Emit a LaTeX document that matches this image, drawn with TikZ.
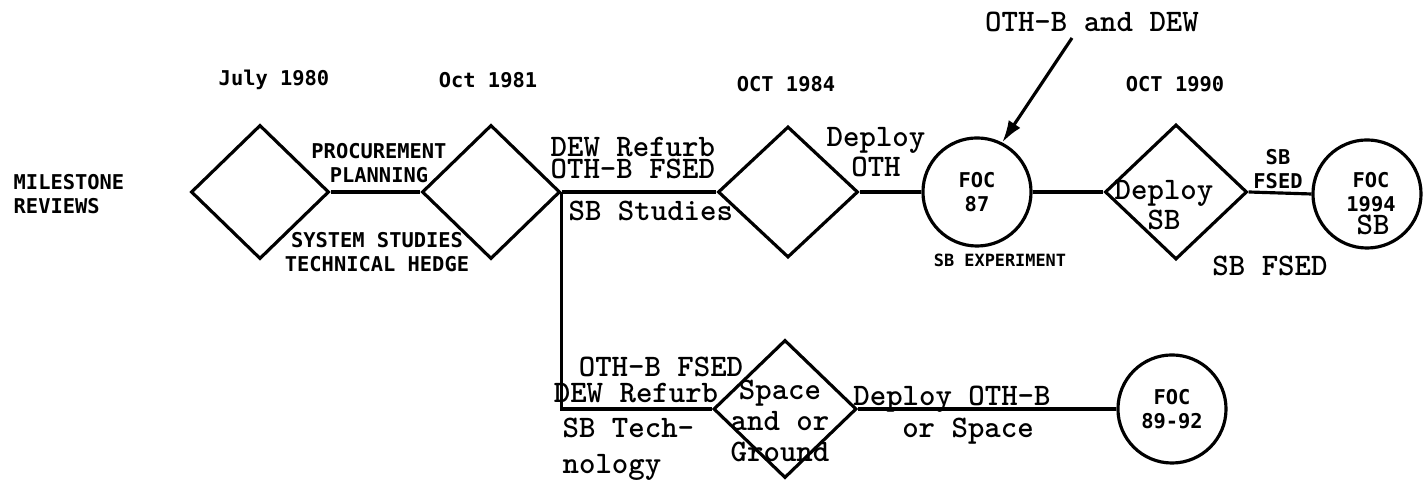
\documentclass[tikz,border=0pt]{standalone}
\usepackage{fontspec}
\usetikzlibrary{shapes.geometric,arrows.meta}
\newfontfamily\dmfam{DejaVu Sans Mono}
\newfontfamily\cwfam{lmmonolt10-bold.otf}
\newcommand\dmtext{\dmfam\bfseries\fontsize{5.8pt}{6.8pt}\selectfont}
\newcommand\cwtext{\cwfam\fontsize{8.9pt}{6pt}\selectfont}
\begin{document}
\begin{tikzpicture}[x=0.01cm,y=-0.01cm,
  gate/.style={draw, diamond, line width=0.9pt, inner sep=0pt, minimum width=1.38cm, minimum height=1.34cm},
  foc/.style={draw, circle, line width=0.9pt, inner sep=0pt, minimum size=1.08cm, align=center, font=\dmtext},
  dm/.style={font=\dmtext, align=center, inner sep=0pt},
  cw/.style={font=\cwtext, align=center, inner sep=0pt},
  link/.style={line width=0.9pt}]
\useasboundingbox (0,0) rectangle (1423,480);
\node[gate] (g1) at (260,192) {};
\node[gate] (g2) at (491,192) {};
\node[gate, minimum width=1.40cm, minimum height=1.31cm] (g3) at (788,192) {};
\node[foc] (c1) at (977,192) {FOC\\87};
\node[gate, minimum width=1.42cm, minimum height=1.35cm] (g4) at (1176,192) {};
\node[foc] (c2) at (1367,194) {};
\node[gate, minimum width=1.43cm, minimum height=1.38cm] (g5) at (785,409) {};
\node[foc] (c3) at (1172,409) {FOC\\89-92};
\draw[link] (g1.east) -- (g2.west);
\draw[link] (g2.east) -- (g3.west);
\draw[link] (g3.east) -- (c1.west);
\draw[link] (c1.east) -- (g4.west);
\draw[link] (g4.east) -- (c2.west);
\draw[link] (g2.east) |- (g5.west);
\draw[link] (g5.east) -- (c3.west);
\node[dm, anchor=west, align=left] (mile) at (13,194) {MILESTONE\\REVIEWS};
\node[dm] (d80) at (274,80) {July 1980};
\node[dm] (d81) at (488,80) {Oct 1981};
\node[dm] (d84) at (786,84) {OCT 1984};
\node[dm] (d90) at (1175,84) {OCT 1990};
\node[dm] (proc) at (379,163) {PROCUREMENT\\PLANNING};
\node[dm] (sys) at (377,252) {SYSTEM STUDIES\\TECHNICAL HEDGE};
\node[cw, anchor=west, align=left] (dew) at (550,158) {DEW Refurb\\OTH-B FSED};
\node[cw, anchor=west] (sbs) at (568,211) {SB Studies};
\node[cw] (dep) at (876,152) {Deploy\\OTH};
\node[dm, font=\dmfam\bfseries\fontsize{4.8pt}{6pt}\selectfont] (sbx) at (1000,260) {SB EXPERIMENT};
\node[cw] (dsb) at (1164,205) {Deploy\\SB};
\node[dm] (sbf) at (1278,169) {SB\\FSED};
\node[cw] (sbfed) at (1270,266) {SB FSED};
\node[dm] (foc94) at (1371,192) {FOC\\1994};
\node[cw] (sb94) at (1373,225) {SB};
\node[cw] (oth) at (1092,22) {OTH-B and DEW};
\coordinate (oa) at (1072,38);
\draw[link, -{Latex[length=2.2mm,width=1.4mm]}] (oa) -- (c1.63);
\node[cw] (othl) at (661,367) {OTH-B FSED};
\node[cw] (dewl) at (636,393) {DEW Refurb};
\node[cw, anchor=west, align=left, font=\cwfam\fontsize{8.9pt}{10.2pt}\selectfont] (sbt) at (562,449) {SB Tech-\\nology};
\node[cw, font=\cwfam\fontsize{8.9pt}{8.8pt}\selectfont] (spc) at (780,421) {Space\\and or\\Ground};
\node[cw] (dot) at (952,399) {Deploy OTH-B};
\node[cw] (osp) at (968,431) {or Space};
\end{tikzpicture}
\end{document}
